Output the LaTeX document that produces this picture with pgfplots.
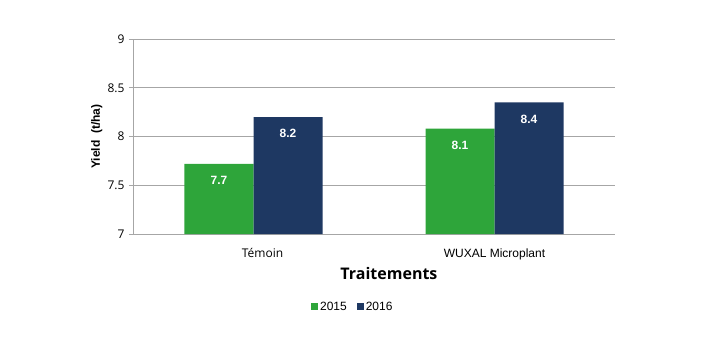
\documentclass[border=0pt]{standalone}
\usepackage{fontspec}
\setmainfont{Liberation Sans}
\newfontfamily\os{Open Sans}
\usepackage{pgfplots}
\pgfplotsset{compat=1.18}
\definecolor{cgreen}{HTML}{2EA53A}
\definecolor{cnavy}{HTML}{1E3862}
\definecolor{cgrid}{HTML}{A6A6A6}
\begin{document}
\begin{tikzpicture}
\path[use as bounding box] (-133pt,-120pt) rectangle (582pt,234pt);
\begin{axis}[
  at={(0pt,0pt)}, anchor=south west,
  scale only axis, width=482pt, height=195pt,
  ymin=7, ymax=9, ytick={7,7.5,8,8.5,9},
  xmin=-0.5, xmax=1.5, xtick={0,1},
  xticklabels={\hspace*{18pt}{\os Témoin}, WUXAL Microplant},
  ybar=0pt, bar width=69pt,
  axis x line*=bottom, axis y line*=left,
  axis line style={cgrid, line width=0.8pt},
  ymajorgrids, grid style={cgrid, line width=0.8pt},
  tick align=outside, major tick length=4pt,
  ytick style={cgrid, line width=0.8pt},
  xtick style={draw=none},
  /pgf/number format/assume math mode=true,
  yticklabel style={font=\os\fontsize{12}{14}\selectfont, xshift=-1pt},
  xticklabel style={font=\fontsize{12}{14}\selectfont, yshift=-7pt},
  ylabel={Yield\ \ (t/ha)},
  ylabel style={at={(axis description cs:-0.075,0.5)}, anchor=center, font=\bfseries\fontsize{12}{14}\selectfont},
  xlabel={Traitements},
  xlabel style={at={(axis description cs:0.531,-0.2)}, anchor=center, font=\os\bfseries\fontsize{16}{19}\selectfont},
  point meta=explicit symbolic,
  nodes near coords,
  nodes near coords style={anchor=center, yshift=-16.5pt, text=white, font=\bfseries\fontsize{12}{14}\selectfont},
  legend style={at={(0.456,-0.374)}, anchor=center, draw=none, fill=none,
    legend columns=2, font=\fontsize{12}{14}\selectfont,
    /tikz/every even column/.append style={column sep=8pt}},
  legend image code/.code={\fill[#1] (0pt,-3.5pt) rectangle (7pt,3.5pt);},
]
\addplot[fill=cgreen, draw=none] coordinates {(0,7.72) [7.7] (1,8.08) [8.1]};
\addplot[fill=cnavy, draw=none] coordinates {(0,8.2) [8.2] (1,8.35) [8.4]};
\legend{2015,2016}
\end{axis}
\end{tikzpicture}
\end{document}
